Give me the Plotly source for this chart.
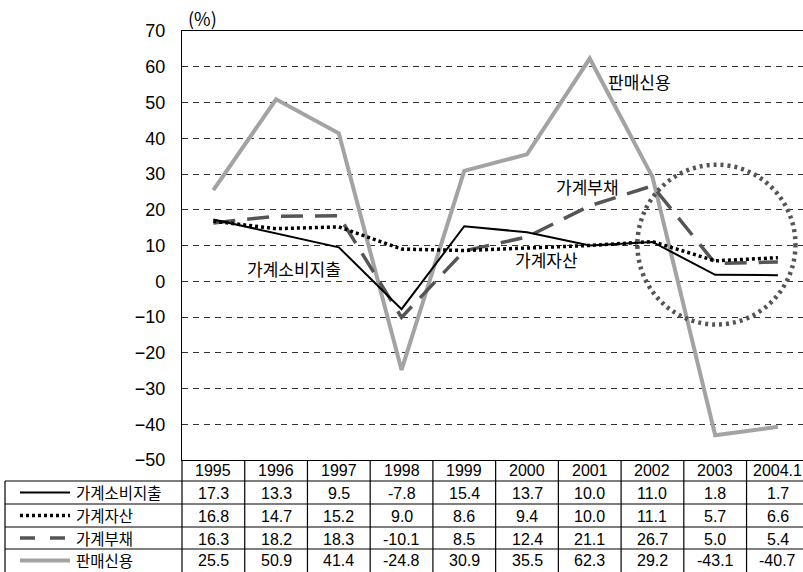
import plotly.graph_objects as go

years = ["1995", "1996", "1997", "1998", "1999", "2000", "2001", "2002", "2003", "2004.1"]
series_names = ["가계소비지출", "가계자산", "가계부채", "판매신용"]
consumption = [17.3, 13.3, 9.5, -7.8, 15.4, 13.7, 10.0, 11.0, 1.8, 1.7]
assets = [16.8, 14.7, 15.2, 9.0, 8.6, 9.4, 10.0, 11.1, 5.7, 6.6]
debt = [16.3, 18.2, 18.3, -10.1, 8.5, 12.4, 21.1, 26.7, 5.0, 5.4]
credit = [25.5, 50.9, 41.4, -24.8, 30.9, 35.5, 62.3, 29.2, -43.1, -40.7]
y_ticks = [70, 60, 50, 40, 30, 20, 10, 0, -10, -20, -30, -40, -50]

W, H = 803, 572
L, T, B, R = 182, 31, 112, 0
PW, PH = W - L - R, H - T - B

def px(x):
    return (x - L) / PW

def py(y):
    return (H - B - y) / PH

NUM_FONT = "Liberation Sans, Arial, sans-serif"
KR_FONT = "Noto Sans CJK KR, sans-serif"

styles = [
    dict(color="#000000", width=2, dash="solid"),
    dict(color="#000000", width=3.5, dash="3px,3px"),
    dict(color="#555555", width=3.5, dash="22px,12px"),
    dict(color="#a3a3a3", width=4, dash="solid"),
]
values = [consumption, assets, debt, credit]

fig = go.Figure()
for i in [3, 2, 1, 0]:
    fig.add_trace(go.Scatter(x=years, y=values[i], mode="lines", name=series_names[i],
                             line=styles[i], showlegend=False, hoverinfo="skip"))

shapes = []
annotations = []

shapes.append(dict(type="circle", xref="x", yref="y", x0=6.76, x1=9.28, y0=-12.1, y1=32.6,
                   line=dict(color="#555555", width=4.5, dash="3px,4px"), layer="above"))

line_k = dict(color="#000000", width=1.2)
row_edges = [481, 504, 527, 549, 572]
label_centers = [492.5, 515, 537.5, 560]
for yy in row_edges[:-1]:
    shapes.append(dict(type="line", xref="paper", yref="paper", x0=px(5), x1=1.0,
                       y0=py(yy), y1=py(yy), line=line_k))
shapes.append(dict(type="line", xref="paper", yref="paper", x0=px(5), x1=px(5),
                   y0=py(481), y1=py(572), line=line_k))
shapes.append(dict(type="line", xref="paper", yref="paper", x0=0, x1=0,
                   y0=py(460), y1=py(572), line=line_k))
for k in range(1, len(years)):
    shapes.append(dict(type="line", xref="x", yref="paper", x0=k - 0.5, x1=k - 0.5,
                       y0=py(460), y1=py(572), line=line_k))

for k, yr in enumerate(years):
    annotations.append(dict(x=k, y=py(471), xref="x", yref="paper", text=yr,
                            showarrow=False, xanchor="center", yanchor="middle", borderpad=0,
                            font=dict(family=NUM_FONT, size=16, color="#000")))

for r in range(4):
    ymid = (row_edges[r] + row_edges[r + 1]) / 2
    yc = py(min(ymid + 1, 560))
    annotations.append(dict(x=px(75), y=py(label_centers[r]), xref="paper", yref="paper",
                            text=series_names[r],
                            showarrow=False, xanchor="left", yanchor="middle", borderpad=0,
                            font=dict(family=KR_FONT, size=15.5, color="#000")))
    st = styles[r]
    shapes.append(dict(type="line", xref="paper", yref="paper", x0=px(20), x1=px(70),
                       y0=py(ymid), y1=py(ymid),
                       line=dict(color=st["color"], width=st["width"],
                                 dash=st["dash"] if r != 2 else "15px,15px")))
    for k in range(len(years)):
        annotations.append(dict(x=k, y=yc, xref="x", yref="paper", text=f"{values[r][k]:.1f}",
                                showarrow=False, xanchor="center", yanchor="middle", borderpad=0,
                                font=dict(family=NUM_FONT, size=16, color="#000")))

labels = [("판매신용", 6.80, 55.9), ("가계부채", 5.96, 26.5), ("가계자산", 5.31, 6.1),
          ("가계소비지출", 1.29, 3.6)]
for t, xx, yy in labels:
    annotations.append(dict(x=xx, y=yy, xref="x", yref="y", text=t, showarrow=False,
                            xanchor="center", yanchor="middle",
                            font=dict(family=KR_FONT, size=17, color="#000")))
annotations.append(dict(x=px(202), y=py(18), xref="paper", yref="paper", text="(%)",
                        showarrow=False, xanchor="center", yanchor="middle",
                        font=dict(family=KR_FONT, size=18, color="#000")))

fig.update_layout(
    width=W, height=H,
    margin=dict(l=L, r=R, t=T, b=B, pad=0),
    paper_bgcolor="white", plot_bgcolor="white",
    xaxis=dict(type="category", range=[-0.5, 9.4], showticklabels=False, showgrid=False,
               zeroline=False, showline=True, mirror=True, linecolor="#000", linewidth=1.3,
               ticks=""),
    yaxis=dict(range=[-50, 70], tickvals=y_ticks, showgrid=True, gridcolor="#333333",
               gridwidth=1.2, griddash="6px,5px", zeroline=False, showline=True,
               linecolor="#000", linewidth=1.3, ticks="", ticklabelstandoff=12,
               tickfont=dict(family=NUM_FONT, size=18, color="#000")),
    shapes=shapes, annotations=annotations,
)

fig.write_html("out.html")
